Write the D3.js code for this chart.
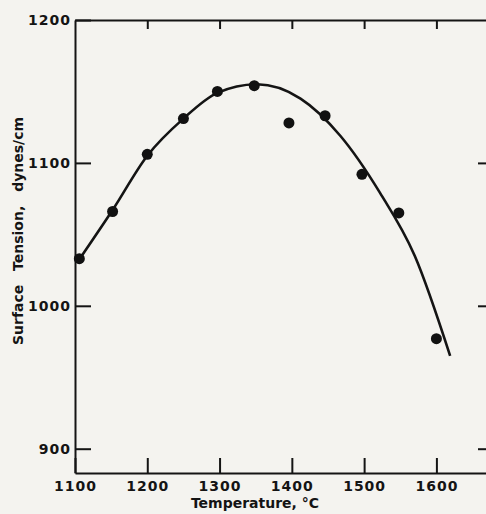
<!DOCTYPE html>
<html>
<head>
<meta charset="utf-8">
<script src="https://cdn.jsdelivr.net/npm/d3@7"></script>
<style>
  body { margin: 0; background: #f4f3ef; }
  svg { display: block; }
  .axis text { font-family: "DejaVu Sans", sans-serif; font-weight: bold; font-size: 14px; letter-spacing: 1px; fill: #141414; }
  .axis path, .axis line { stroke: #141414; stroke-width: 2px; }
  .title { font-family: "DejaVu Sans", sans-serif; font-weight: bold; font-size: 14px; fill: #141414; }
</style>
</head>
<body>
<div id="chart"></div>
<script>
// measured points (temperature degC, surface tension dynes/cm)
var temps   = [1106, 1152, 1200, 1250, 1297, 1348, 1396, 1446, 1497, 1548, 1600];
var tension = [1033, 1066, 1106, 1131, 1150, 1154, 1128, 1133, 1092, 1065, 977];

// smooth fitted curve
var curveT  = [1104, 1152, 1200, 1250, 1297, 1352, 1412, 1467, 1522, 1570, 1619];
var curveST = [1031, 1067, 1105, 1131, 1149, 1155, 1145, 1119, 1079, 1035, 965];

var xTicks = [1100, 1200, 1300, 1400, 1500, 1600];
var yTicks = [900, 1000, 1100, 1200];

var width = 486, height = 514;

var svg = d3.select("#chart").append("svg")
  .attr("width", width)
  .attr("height", height);

var x = d3.scaleLinear().domain([1100, 1670]).range([75, 487]);
var y = d3.scaleLinear().domain([883, 1200]).range([473, 20]);
var fmt = d3.format("d");

// frame
var xAxisB = d3.axisBottom(x).tickValues(xTicks).tickSize(-15).tickPadding(8).tickSizeOuter(0).tickFormat(fmt);
svg.append("g").attr("class", "axis")
  .attr("transform", "translate(0," + y(883) + ")")
  .call(xAxisB);

var xAxisT = d3.axisTop(x).tickValues(xTicks.slice(1)).tickSize(-9).tickSizeOuter(0).tickFormat("");
svg.append("g").attr("class", "axis")
  .attr("transform", "translate(0," + y(1200) + ")")
  .call(xAxisT);

var yAxisL = d3.axisLeft(y).tickValues(yTicks).tickSize(-16).tickPadding(4).tickSizeOuter(0).tickFormat(fmt);
svg.append("g").attr("class", "axis")
  .attr("transform", "translate(" + x(1100) + ",0)")
  .call(yAxisL);

var yAxisR = d3.axisRight(y).tickValues(yTicks.slice(0, 3)).tickSize(-9).tickSizeOuter(0).tickFormat("");
svg.append("g").attr("class", "axis")
  .attr("transform", "translate(" + x(1670) + ",0)")
  .call(yAxisR);

// fitted curve
var curveData = curveT.map(function(t, i) { return {t: t, s: curveST[i]}; });
var line = d3.line()
  .x(function(d) { return x(d.t); })
  .y(function(d) { return y(d.s); })
  .curve(d3.curveMonotoneX);

svg.append("path")
  .datum(curveData)
  .attr("d", line)
  .attr("fill", "none")
  .attr("stroke", "#141414")
  .attr("stroke-width", 2.6);

// data points
var pts = temps.map(function(t, i) { return {t: t, s: tension[i]}; });
svg.selectAll(".dot")
  .data(pts)
  .enter().append("circle")
  .attr("class", "dot")
  .attr("cx", function(d) { return x(d.t); })
  .attr("cy", function(d) { return y(d.s); })
  .attr("r", 5.5)
  .attr("fill", "#111");

// titles
svg.append("text")
  .attr("class", "title")
  .attr("x", 255)
  .attr("y", 508)
  .attr("text-anchor", "middle")
  .text("Temperature, °C");

svg.append("text")
  .attr("class", "title")
  .attr("transform", "translate(23,231) rotate(-90)")
  .attr("text-anchor", "middle")
  .style("word-spacing", "9px")
  .text("Surface Tension, dynes/cm");
</script>
</body>
</html>
